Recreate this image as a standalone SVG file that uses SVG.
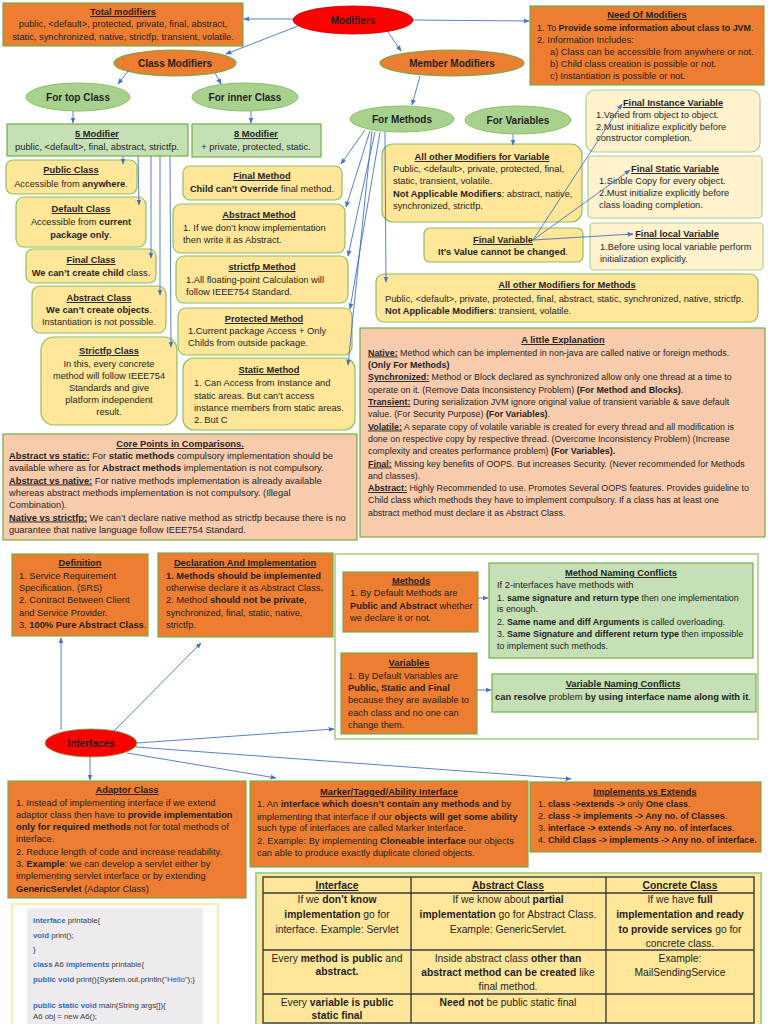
<svg xmlns="http://www.w3.org/2000/svg" width="768" height="1024" viewBox="0 0 768 1024">
<defs>
<marker id="ar" viewBox="0 0 10 10" refX="9" refY="5" markerWidth="6" markerHeight="6" orient="auto" markerUnits="userSpaceOnUse"><path d="M0,1 L10,5 L0,9 z" fill="#4472C4"/></marker>
</defs>
<style>
.t{font-family:"Liberation Sans",Arial,sans-serif;font-size:9.3px;fill:#1f1f1f}
.s{font-size:8.9px}
.c{text-anchor:middle}
.b{font-weight:bold}
.h{font-weight:bold;text-decoration:underline}
.e{font-size:10px;font-weight:bold}
.or{fill:#ED7D31;stroke:#70AD47;stroke-width:1.2}
.yl{fill:#FFE699;stroke:#8CC063;stroke-width:1.2}
.ly{fill:#FFF2CC;stroke:#A9D18E;stroke-width:1.2}
.lg{fill:#C5E0B4;stroke:#70AD47;stroke-width:1.2}
.pe{fill:#F8CBAD;stroke:#70AD47;stroke-width:1.2}
.ge{fill:#A9D18E;stroke:#8CC063;stroke-width:1}
.re{fill:#FF0000;stroke:#C00000;stroke-width:0.8}
.wb{fill:#FFFFFF;stroke:#8CC063;stroke-width:1.2}
.cn line{stroke:#4472C4;stroke-width:0.9;fill:none;marker-end:url(#ar)}
.tb{font-size:10.3px}
.cd{font-size:7.8px;fill:#3a3a3a}
.kw{font-weight:bold;fill:#2E6DB4}
.gl{stroke:#3a3a3a;stroke-width:1.4;fill:none}
</style>
<rect x="0" y="0" width="768" height="1024" fill="#FFFFFF"/>

<g id="total-modifiers">
<rect class="or" x="3" y="3" width="240" height="43"/>
<text class="t c h" x="123" y="15">Total modifiers</text>
<text class="t c" x="123" y="27">public, &lt;default&gt;, protected, private, final, abstract,</text>
<text class="t c" x="123" y="39.5">static, synchronized, native, strictfp, transient, volatile.</text>
</g>

<g id="modifiers">
<ellipse class="re" cx="353" cy="20" rx="60" ry="14"/>
<text class="t c e" x="353" y="23.5">Modifiers</text>
</g>

<g id="need-of-modifiers">
<rect class="or" x="530" y="6" width="234" height="79"/>
<text class="t c h" x="647" y="18">Need Of Modifiers</text>
<text class="t s" x="537" y="31">1. To <tspan class="b">Provide some information about class to JVM</tspan>.</text>
<text class="t" x="537" y="43">2. Information Includes:</text>
<text class="t" x="550" y="55">a) Class can be accessible from anywhere or not.</text>
<text class="t" x="550" y="67">b) Child class creation is possible or not.</text>
<text class="t" x="550" y="79">c) Instantiation is possible or not.</text>
</g>

<g id="class-modifiers">
<ellipse class="or" cx="175" cy="63" rx="61" ry="13"/>
<text class="t c e" x="175" y="66.5">Class Modifiers</text>
</g>

<g id="member-modifiers">
<ellipse class="or" cx="452" cy="63" rx="72" ry="13"/>
<text class="t c e" x="452" y="66.5">Member Modifiers</text>
</g>

<g id="for-top-class">
<ellipse class="ge" cx="78" cy="97" rx="52" ry="14"/>
<text class="t c e" x="78" y="100.5">For top Class</text>
</g>

<g id="for-inner-class">
<ellipse class="ge" cx="245" cy="97" rx="53" ry="14"/>
<text class="t c e" x="245" y="100.5">For inner Class</text>
</g>

<g id="five-modifier">
<rect class="lg" x="7" y="124" width="181" height="32"/>
<text class="t c h" x="97" y="137">5 Modifier</text>
<text class="t c" x="97" y="149.5">public, &lt;default&gt;, final, abstract, strictfp.</text>
</g>

<g id="eight-modifier">
<rect class="lg" x="192" y="124" width="129" height="33"/>
<text class="t c h" x="256" y="137">8 Modifier</text>
<text class="t c" x="256" y="149.5">+ private, protected, static.</text>
</g>

<g id="for-methods">
<ellipse class="ge" cx="402" cy="119" rx="52" ry="13"/>
<text class="t c e" x="402" y="122.5">For Methods</text>
</g>

<g id="for-variables">
<ellipse class="ge" cx="518" cy="120" rx="53" ry="14"/>
<text class="t c e" x="518" y="123.5">For Variables</text>
</g>

<g id="final-instance-variable">
<rect class="ly" x="586" y="90" width="174" height="62" rx="9"/>
<text class="t c h" x="673" y="106">Final Instance Variable</text>
<text class="t" x="596" y="118">1.Varied from object to object.</text>
<text class="t" x="596" y="129.5">2.Must initialize explicitly before</text>
<text class="t" x="596" y="141">constructor completion.</text>
</g>

<g id="other-modifiers-variable">
<rect class="yl" x="382" y="144" width="200" height="78" rx="11"/>
<text class="t c h" x="482" y="160">All other Modifiers for Variable</text>
<text class="t" x="393" y="172">Public, &lt;default&gt;, private, protected, final,</text>
<text class="t" x="393" y="184">static, transient, volatile.</text>
<text class="t" x="393" y="197"><tspan class="b">Not Applicable Modifiers</tspan>: abstract, native,</text>
<text class="t" x="393" y="209">synchronized, strictfp.</text>
</g>

<g id="final-static-variable">
<rect class="ly" x="588" y="156" width="174" height="62" rx="4"/>
<text class="t c h" x="675" y="172">Final Static Variable</text>
<text class="t" x="599" y="184">1.Sinble Copy for every object.</text>
<text class="t" x="599" y="196">2.Must initialize explicitly before</text>
<text class="t" x="599" y="208">class loading completion.</text>
</g>

<g id="final-variable">
<rect class="yl" x="424" y="228" width="159" height="34" rx="6"/>
<text class="t c h" x="503" y="243">Final Variable</text>
<text class="t c" x="503" y="255"><tspan class="b">It’s Value cannot be changed</tspan>.</text>
</g>

<g id="final-local-variable">
<rect class="ly" x="590" y="223" width="173" height="47" rx="4"/>
<text class="t c h" x="677" y="237">Final local Variable</text>
<text class="t" x="600" y="250">1.Before using local variable perform</text>
<text class="t" x="600" y="262">initialization explicitly.</text>
</g>

<g id="other-modifiers-methods">
<rect class="yl" x="376" y="274" width="382" height="48" rx="8"/>
<text class="t c h" x="567" y="288">All other Modifiers for Methods</text>
<text class="t" x="385" y="302">Public, &lt;default&gt;, private, protected, final, abstract, static, synchronized, native, strictfp.</text>
<text class="t" x="385" y="314"><tspan class="b">Not Applicable Modifiers</tspan>: transient, volatile.</text>
</g>

<g id="public-class">
<rect class="yl" x="6" y="160" width="131" height="34" rx="7"/>
<text class="t c h" x="71" y="173">Public Class</text>
<text class="t c" x="71" y="186.5">Accessible from <tspan class="b">anywhere</tspan>.</text>
</g>

<g id="default-class">
<rect class="yl" x="16" y="197" width="130" height="50" rx="8"/>
<text class="t c h" x="81" y="212">Default Class</text>
<text class="t c" x="81" y="224.5">Accessible from <tspan class="b">current</tspan></text>
<text class="t c" x="81" y="237.5"><tspan class="b">package only</tspan>.</text>
</g>

<g id="final-class">
<rect class="yl" x="26" y="249" width="130" height="34" rx="7"/>
<text class="t c h" x="91" y="263">Final Class</text>
<text class="t c" x="91" y="276"><tspan class="b">We can’t create child</tspan> class.</text>
</g>

<g id="abstract-class">
<rect class="yl" x="32" y="286" width="134" height="47" rx="8"/>
<text class="t c h" x="99" y="301">Abstract Class</text>
<text class="t c" x="99" y="313"><tspan class="b">We can’t create objects</tspan>.</text>
<text class="t c" x="99" y="325">Instantiation is not possible.</text>
</g>

<g id="strictfp-class">
<rect class="yl" x="41" y="337" width="136" height="88" rx="13"/>
<text class="t c h" x="109" y="354">Strictfp Class</text>
<text class="t c" x="109" y="367">In this, every concrete</text>
<text class="t c" x="109" y="379">method will follow IEEE754</text>
<text class="t c" x="109" y="391">Standards and give</text>
<text class="t c" x="109" y="403">platform independent</text>
<text class="t c" x="109" y="415">result.</text>
</g>

<g id="final-method">
<rect class="yl" x="183" y="166" width="159" height="34" rx="7"/>
<text class="t c h" x="262" y="179">Final Method</text>
<text class="t c" x="262" y="192"><tspan class="b">Child can’t Override</tspan> final method.</text>
</g>

<g id="abstract-method">
<rect class="yl" x="173" y="204" width="172" height="49" rx="8"/>
<text class="t c h" x="259" y="218">Abstract Method</text>
<text class="t" x="183" y="231">1. If we don’t know implementation</text>
<text class="t" x="183" y="243">then write it as Abstract.</text>
</g>

<g id="strictfp-method">
<rect class="yl" x="176" y="256" width="172" height="47" rx="8"/>
<text class="t c h" x="262" y="270">strictfp Method</text>
<text class="t" x="186" y="283">1.All floating-point Calculation will</text>
<text class="t" x="186" y="295">follow IEEE754 Standard.</text>
</g>

<g id="protected-method">
<rect class="yl" x="178" y="308" width="174" height="47" rx="8"/>
<text class="t c h" x="264" y="322">Protected Method</text>
<text class="t" x="188" y="334">1.Current package Access + Only</text>
<text class="t" x="188" y="346">Childs from outside package.</text>
</g>

<g id="static-method">
<rect class="yl" x="183" y="358" width="172" height="72" rx="11"/>
<text class="t c h" x="269" y="373">Static Method</text>
<text class="t" x="194" y="386">1. Can Access from Instance and</text>
<text class="t" x="194" y="398.5">static areas. But can’t access</text>
<text class="t" x="194" y="411">instance members from static areas.</text>
<text class="t" x="194" y="423">2. But C</text>
</g>

<g id="core-points">
<rect class="pe" x="3" y="434" width="354" height="106"/>
<text class="t c h" x="180" y="447">Core Points in Comparisons.</text>
<text class="t" x="9" y="459"><tspan class="h">Abstract vs static:</tspan> For <tspan class="b">static methods</tspan> compulsory implementation should be</text>
<text class="t" x="9" y="471">available where as for <tspan class="b">Abstract methods</tspan> implementation is not compulsory.</text>
<text class="t" x="9" y="483.5"><tspan class="h">Abstract vs native:</tspan> For native methods implementation is already available</text>
<text class="t" x="9" y="496">whereas abstract methods implementation is not compulsory. (Illegal</text>
<text class="t" x="9" y="507.5">Combination).</text>
<text class="t" x="9" y="520.5"><tspan class="h">Native vs strictfp:</tspan> We can’t declare native method as strictfp because there is no</text>
<text class="t" x="9" y="533">guarantee that native language follow IEEE754 Standard.</text>
</g>

<g id="little-explanation">
<rect class="pe" x="360" y="328" width="405" height="209"/>
<text class="t c h" x="563" y="343">A little Explanation</text>
<text class="t s" x="368" y="355.5"><tspan class="h">Native:</tspan> Method which can be implemented in non-java are called native or foreign methods.</text>
<text class="t s" x="368" y="367.5"><tspan class="b">(Only For Methods)</tspan></text>
<text class="t s" x="368" y="380"><tspan class="h">Synchronized:</tspan> Method or Block declared as synchronized allow only one thread at a time to</text>
<text class="t s" x="368" y="392.5">operate on it. (Remove Data Inconsistency Problem) <tspan class="b">(For Method and Blocks)</tspan>.</text>
<text class="t s" x="368" y="405"><tspan class="h">Transient:</tspan> During serialization JVM ignore original value of transient variable &amp; save default</text>
<text class="t s" x="368" y="417">value. (For Security Purpose) <tspan class="b">(For Variables)</tspan>.</text>
<text class="t s" x="368" y="429.5"><tspan class="h">Volatile:</tspan> A separate copy of volatile variable is created for every thread and all modification is</text>
<text class="t s" x="368" y="442">done on respective copy by respective thread. (Overcome Inconsistency Problem) (Increase</text>
<text class="t s" x="368" y="454">complexity and creates performance problem) <tspan class="b">(For Variables).</tspan></text>
<text class="t s" x="368" y="466.5"><tspan class="h">Final:</tspan> Missing key benefits of OOPS. But increases Security. (Never recommended for Methods</text>
<text class="t s" x="368" y="478.5">and classes).</text>
<text class="t s" x="368" y="491"><tspan class="h">Abstract:</tspan> Highly Recommended to use. Promotes Several OOPS features. Provides guideline to</text>
<text class="t s" x="368" y="503">Child class which methods they have to implement compulsory. If a class has at least one</text>
<text class="t s" x="368" y="515.5">abstract method must declare it as Abstract Class.</text>
</g>

<g id="definition">
<rect class="or" x="12" y="554" width="136" height="82"/>
<text class="t c h" x="80" y="566">Definition</text>
<text class="t" x="19" y="578.5">1. Service Requirement</text>
<text class="t" x="19" y="591">Specification. (SRS)</text>
<text class="t" x="19" y="603">2. Contract Between Client</text>
<text class="t" x="19" y="615.5">and Service Provider.</text>
<text class="t" x="19" y="628">3. <tspan class="b">100% Pure Abstract Class</tspan>.</text>
</g>

<g id="declaration-implementation">
<rect class="or" x="158" y="553" width="175" height="84"/>
<text class="t c h" x="245" y="566">Declaration And Implementation</text>
<text class="t" x="166" y="578.5"><tspan class="b">1. Methods should be implemented</tspan></text>
<text class="t" x="166" y="591">otherwise declare it as Abstract Class<tspan class="b">.</tspan></text>
<text class="t" x="166" y="603">2. Method <tspan class="b">should not be private</tspan>,</text>
<text class="t" x="166" y="615.5">synchronized, final, static, native,</text>
<text class="t" x="166" y="627.5">strictfp.</text>
</g>

<g id="members-container">
<rect class="wb" x="335" y="554" width="423" height="185"/>
</g>

<g id="methods">
<rect class="or" x="343" y="572" width="135" height="60"/>
<text class="t c h" x="411" y="583.5">Methods</text>
<text class="t" x="350" y="596">1. By Default Methods are</text>
<text class="t" x="350" y="609"><tspan class="b">Public and Abstract</tspan> whether</text>
<text class="t" x="350" y="621">we declare it or not.</text>
</g>

<g id="method-naming-conflicts">
<rect class="lg" x="489" y="563" width="264" height="95"/>
<text class="t c h" x="621" y="576">Method Naming Conflicts</text>
<text class="t" x="497" y="588">If 2-interfaces have methods with</text>
<text class="t s" x="497" y="600.5">1. <tspan class="b">same signature and return type</tspan> then one implementation</text>
<text class="t s" x="497" y="612">is enough.</text>
<text class="t s" x="497" y="624.5">2. <tspan class="b">Same name and diff Arguments</tspan> is called overloading.</text>
<text class="t s" x="497" y="636.5">3. <tspan class="b">Same Signature and different return type</tspan> then impossible</text>
<text class="t s" x="497" y="648.5">to implement such methods.</text>
</g>

<g id="variables">
<rect class="or" x="341" y="653" width="136" height="81"/>
<text class="t c h" x="409" y="666">Variables</text>
<text class="t" x="348" y="678.5">1. By Default Variables are</text>
<text class="t" x="348" y="690.5"><tspan class="b">Public, Static and Final</tspan></text>
<text class="t" x="348" y="703">because they are available to</text>
<text class="t" x="348" y="715.5">each class and no one can</text>
<text class="t" x="348" y="727.5">change them.</text>
</g>

<g id="variable-naming-conflicts">
<rect class="lg" x="492" y="674" width="264" height="38"/>
<text class="t c h" x="623" y="687">Variable Naming Conflicts</text>
<text class="t c" x="623" y="699.5"><tspan class="b">can resolve</tspan> problem <tspan class="b">by using interface name along with it</tspan>.</text>
</g>

<g id="interfaces">
<ellipse class="re" cx="91" cy="743" rx="46" ry="14" style="stroke:#70AD47"/>
<text class="t c e" x="91" y="746.5">Interfaces</text>
</g>

<g id="adaptor-class">
<rect class="or" x="8" y="781" width="238" height="117"/>
<text class="t c h" x="127" y="793">Adaptor Class</text>
<text class="t" x="16" y="805.5">1. Instead of implementing interface if we extend</text>
<text class="t" x="16" y="818">adaptor class then have to <tspan class="b">provide implementation</tspan></text>
<text class="t" x="16" y="830"><tspan class="b">only for required methods</tspan> not for total methods of</text>
<text class="t" x="16" y="842">interface.</text>
<text class="t" x="16" y="854.5">2. Reduce length of code and increase readability.</text>
<text class="t" x="16" y="866.5">3. <tspan class="b">Example</tspan>: we can develop a servlet either by</text>
<text class="t" x="16" y="879">implementing servlet interface or by extending</text>
<text class="t" x="16" y="891.5"><tspan class="b">GenericServlet</tspan> (Adaptor Class)</text>
</g>

<g id="marker-interface">
<rect class="or" x="250" y="781" width="278" height="86"/>
<text class="t c h" x="389" y="795">Marker/Tagged/Ability Interface</text>
<text class="t" x="257" y="807">1. An <tspan class="b">interface which doesn’t contain any methods and</tspan> by</text>
<text class="t" x="257" y="819.5">implementing that interface if our <tspan class="b">objects will get some ability</tspan></text>
<text class="t" x="257" y="831">such type of interfaces are called Marker Interface.</text>
<text class="t" x="257" y="843.5">2. Example: By implementing <tspan class="b">Cloneable interface</tspan> our objects</text>
<text class="t" x="257" y="855.5">can able to produce exactly duplicate cloned objects.</text>
</g>

<g id="implements-vs-extends">
<rect class="or" x="530" y="782" width="231" height="70"/>
<text class="t c h" x="645" y="794.5">Implements vs Extends</text>
<text class="t s" x="538" y="807">1. <tspan class="b">class -&gt;extends -&gt;</tspan> only <tspan class="b">One class</tspan>.</text>
<text class="t s" x="538" y="819">2. <tspan class="b">class -&gt; implements -&gt; Any no. of Classes</tspan>.</text>
<text class="t s" x="538" y="831">3. <tspan class="b">interface -&gt; extends -&gt; Any no. of interfaces</tspan>.</text>
<text class="t s" x="538" y="843">4. <tspan class="b">Child Class -&gt; implements -&gt; Any no. of interface.</tspan></text>
</g>

<g id="code-sample">
<rect x="12" y="904" width="206" height="125" fill="#FFFFFF" stroke="#FFE699" stroke-width="1.5"/>
<rect x="27" y="908" width="176" height="120" fill="#EEEBEE"/>
<text class="t cd" x="33" y="923"><tspan class="kw">interface</tspan> printable{</text>
<text class="t cd" x="33" y="937.5"><tspan class="kw">void</tspan> print();</text>
<text class="t cd" x="33" y="952">}</text>
<text class="t cd" x="33" y="967"><tspan class="kw">class</tspan> A6 <tspan class="kw">implements</tspan> printable{</text>
<text class="t cd" x="33" y="981.5"><tspan class="kw">public void</tspan> print(){System.out.println(<tspan fill="#2B3FD0">"Hello"</tspan>);}</text>
<text class="t cd" x="33" y="1008"><tspan class="kw">public static void</tspan> main(String args[]){</text>
<text class="t cd" x="33" y="1019">A6 obj = new A6();</text>
</g>

<g id="comparison-table">
<rect x="256" y="873" width="505" height="156" fill="#FFE699" stroke="#A9D18E" stroke-width="2"/>
<rect class="gl" x="263" y="877" width="491" height="146"/>
<line class="gl" x1="411" y1="877" x2="411" y2="1023"/>
<line class="gl" x1="606" y1="877" x2="606" y2="1023"/>
<line class="gl" x1="263" y1="893" x2="754" y2="893"/>
<line class="gl" x1="263" y1="950" x2="754" y2="950"/>
<line class="gl" x1="263" y1="994" x2="754" y2="994"/>
<text class="t tb c h" x="337" y="889">Interface</text>
<text class="t tb c h" x="508" y="889">Abstract Class</text>
<text class="t tb c h" x="680" y="889">Concrete Class</text>
<text class="t tb c" x="337" y="903">If we <tspan class="b">don’t know</tspan></text>
<text class="t tb c" x="337" y="918"><tspan class="b">implementation</tspan> go for</text>
<text class="t tb c" x="337" y="932.5">interface. Example: Servlet</text>
<text class="t tb c" x="508" y="903">If we know about <tspan class="b">partial</tspan></text>
<text class="t tb c" x="508" y="918"><tspan class="b">implementation</tspan> go for Abstract Class.</text>
<text class="t tb c" x="508" y="932.5">Example: GenericServlet.</text>
<text class="t tb c" x="680" y="903">If we have <tspan class="b">full</tspan></text>
<text class="t tb c" x="680" y="918"><tspan class="b">implementation and ready</tspan></text>
<text class="t tb c" x="680" y="932.5"><tspan class="b">to provide services</tspan> go for</text>
<text class="t tb c" x="680" y="946.5">concrete class.</text>
<text class="t tb c" x="337" y="962">Every <tspan class="b">method is public</tspan> and</text>
<text class="t tb c" x="337" y="975"><tspan class="b">abstract.</tspan></text>
<text class="t tb c" x="508" y="962">Inside abstract class <tspan class="b">other than</tspan></text>
<text class="t tb c" x="508" y="976"><tspan class="b">abstract method can be created</tspan> like</text>
<text class="t tb c" x="508" y="990">final method.</text>
<text class="t tb c" x="680" y="962">Example:</text>
<text class="t tb c" x="680" y="976">MailSendingService</text>
<text class="t tb c" x="337" y="1005.5">Every <tspan class="b">variable is public</tspan></text>
<text class="t tb c" x="337" y="1019"><tspan class="b">static final</tspan></text>
<text class="t tb c" x="508" y="1005.5"><tspan class="b">Need not</tspan> be public static final</text>
</g>

<g id="connectors" class="cn">
<line x1="293" y1="19" x2="244" y2="19"/>
<line x1="298" y1="26" x2="226" y2="54"/>
<line x1="413" y1="20" x2="529" y2="21"/>
<line x1="388" y1="32" x2="401" y2="51"/>
<line x1="129" y1="70" x2="118" y2="84"/>
<line x1="215" y1="73" x2="221" y2="84"/>
<line x1="73" y1="111" x2="73" y2="123"/>
<line x1="251" y1="111" x2="251" y2="123"/>
<line x1="420" y1="76" x2="412" y2="105"/>
<line x1="513" y1="134" x2="513" y2="145"/>
<line x1="123" y1="156" x2="123" y2="164"/>
<line x1="138" y1="156" x2="139" y2="205"/>
<line x1="151" y1="156" x2="151" y2="258"/>
<line x1="160" y1="156" x2="160" y2="295"/>
<line x1="170" y1="156" x2="171" y2="347"/>
<line x1="365" y1="130" x2="341" y2="164"/>
<line x1="370" y1="131" x2="346" y2="207"/>
<line x1="375" y1="132" x2="348" y2="256"/>
<line x1="380" y1="132" x2="350" y2="309"/>
<line x1="372" y1="131" x2="348" y2="365"/>
<line x1="385" y1="132" x2="386" y2="282"/>
<line x1="533" y1="240" x2="622" y2="104"/>
<line x1="533" y1="240" x2="630" y2="170"/>
<line x1="533" y1="240" x2="633" y2="234"/>
<line x1="61" y1="730" x2="61" y2="638"/>
<line x1="114" y1="731" x2="201" y2="643"/>
<line x1="137" y1="743" x2="334" y2="729"/>
<line x1="90" y1="757" x2="90" y2="780"/>
<line x1="127" y1="753" x2="276" y2="778"/>
<line x1="136" y1="747" x2="571" y2="779"/>
<line x1="478" y1="598" x2="488" y2="598"/>
<line x1="477" y1="690" x2="491" y2="690"/>
</g>
</svg>
